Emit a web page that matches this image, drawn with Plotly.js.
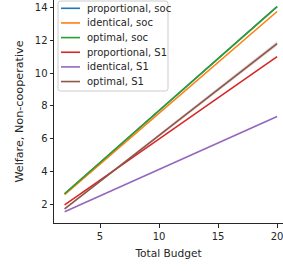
<!DOCTYPE html>
<html>
<head>
<meta charset="utf-8">
<script src="https://cdn.plot.ly/plotly-3.0.1.min.js"></script>
<style>html,body{margin:0;padding:0;background:#fff;overflow:hidden;}#chart{width:283px;height:271px;}</style>
</head>
<body>
<div id="chart"></div>
<script>
const budget = [2, 4, 6, 8, 10, 12, 14, 16, 18, 20];
const proportionalSoc = [2.65, 3.92, 5.18, 6.45, 7.72, 8.98, 10.25, 11.52, 12.78, 14.05];
const identicalSoc    = [2.60, 3.84, 5.08, 6.32, 7.56, 8.79, 10.03, 11.27, 12.51, 13.75];
const optimalSoc      = [2.65, 3.92, 5.18, 6.45, 7.72, 8.98, 10.25, 11.52, 12.78, 14.05];
const proportionalS1  = [1.97, 2.97, 3.98, 4.98, 5.99, 6.99, 7.99, 9.00, 10.00, 11.00];
const identicalS1     = [1.56, 2.20, 2.85, 3.49, 4.13, 4.78, 5.42, 6.06, 6.71, 7.35];
const optimalS1       = [1.73, 2.85, 3.97, 5.09, 6.21, 7.32, 8.44, 9.56, 10.68, 11.80];
const optimalS1Low    = [1.68, 2.79, 3.90, 5.01, 6.12, 7.22, 8.33, 9.44, 10.55, 11.66];
const optimalS1High   = [1.78, 2.91, 4.04, 5.17, 6.30, 7.42, 8.55, 9.68, 10.81, 11.94];

const names = ['proportional, soc', 'identical, soc', 'optimal, soc', 'proportional, S1', 'identical, S1', 'optimal, S1'];
const series = [proportionalSoc, identicalSoc, optimalSoc, proportionalS1, identicalS1, optimalS1];
const colors = ['#1f77b4', '#ff7f0e', '#2ca02c', '#d62728', '#9467bd', '#8c564b'];

const traces = [];
traces.push({x: budget, y: optimalS1Low, mode: 'lines', line: {width: 0}, showlegend: false, hoverinfo: 'skip'});
traces.push({x: budget, y: optimalS1High, mode: 'lines', line: {width: 0}, fill: 'tonexty', fillcolor: 'rgba(140,86,75,0.25)', showlegend: false, hoverinfo: 'skip'});
series.forEach((s, i) => {
  traces.push({x: budget, y: s, name: names[i], mode: 'lines', line: {color: colors[i], width: 1.6}, showlegend: false});
});

// legend drawn as a matplotlib-style box (pixel positions converted to paper fractions)
const M = {l: 54, r: 0, t: 0, b: 48}, W = 283, H = 271;
const pw = W - M.l - M.r, ph = H - M.t - M.b;
const px = v => (v - M.l) / pw;
const py = v => (ph - (v - M.t)) / ph;
const shapes = [];
const annotations = [];
const bx0 = px(58), bx1 = px(168), by0 = py(91), by1 = py(1);
const rx = 2.5 / pw, ry = 2.5 / ph;
shapes.push({
  type: 'path', xref: 'paper', yref: 'paper', layer: 'above',
  path: `M ${bx0 + rx} ${by1} L ${bx1 - rx} ${by1} Q ${bx1} ${by1} ${bx1} ${by1 - ry} L ${bx1} ${by0 + ry} Q ${bx1} ${by0} ${bx1 - rx} ${by0} L ${bx0 + rx} ${by0} Q ${bx0} ${by0} ${bx0} ${by0 + ry} L ${bx0} ${by1 - ry} Q ${bx0} ${by1} ${bx0 + rx} ${by1} Z`,
  fillcolor: 'rgba(255,255,255,0.8)', line: {color: '#cccccc', width: 1}
});
names.forEach((n, i) => {
  const yc = 8.3 + 14.65 * i;
  shapes.push({type: 'line', xref: 'paper', yref: 'paper', layer: 'above',
    x0: px(61), x1: px(80), y0: py(yc), y1: py(yc), line: {color: colors[i], width: 1.6}});
  annotations.push({xref: 'paper', yref: 'paper', x: px(85), y: py(yc), xanchor: 'left', yanchor: 'middle',
    text: n, showarrow: false, font: {family: 'DejaVu Sans', size: 10, color: '#262626'}});
});

const axisCommon = {
  showgrid: false, zeroline: false, showline: true, linecolor: '#262626', linewidth: 1,
  ticks: 'outside', ticklen: 3.5, tickwidth: 1, tickcolor: '#262626', ticklabeloverflow: 'allow',
  tickfont: {family: 'DejaVu Sans', size: 10, color: '#262626'}
};

const layout = {
  width: W, height: H,
  margin: M,
  paper_bgcolor: '#fff', plot_bgcolor: '#fff',
  font: {family: 'DejaVu Sans', size: 10, color: '#262626'},
  xaxis: Object.assign({}, axisCommon, {
    range: [1.1, 20.5], tickvals: [5, 10, 15, 20],
    title: {text: 'Total Budget', font: {family: 'DejaVu Sans', size: 10.6, color: '#262626'}, standoff: 9}
  }),
  yaxis: Object.assign({}, axisCommon, {
    range: [0.87, 14.45], tickvals: [2, 4, 6, 8, 10, 12, 14],
    title: {text: 'Welfare, Non-cooperative', font: {family: 'DejaVu Sans', size: 11.2, color: '#262626'}, standoff: 8}
  }),
  shapes: shapes,
  annotations: annotations,
  showlegend: false
};

Plotly.newPlot('chart', traces, layout, {displayModeBar: false, staticPlot: true});
</script>
</body>
</html>
